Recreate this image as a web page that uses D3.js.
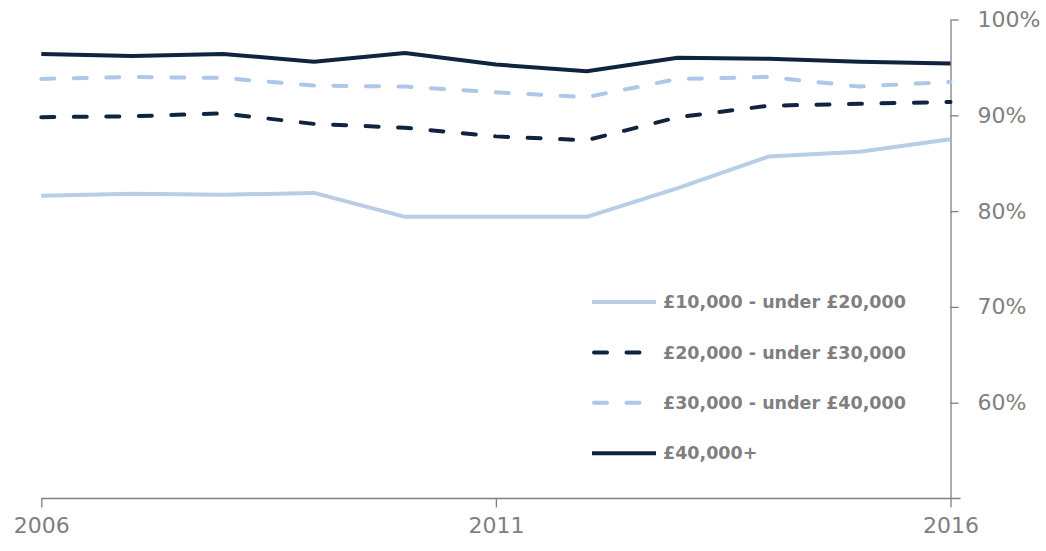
<!DOCTYPE html>
<html>
<head>
<meta charset="utf-8">
<script src="https://cdn.jsdelivr.net/npm/d3@7"></script>
<style>
  body { margin: 0; background: #fff; }
  svg { display: block; }
</style>
</head>
<body>
<div id="chart"></div>
<script>
// years along the bottom
const years = [2006, 2007, 2008, 2009, 2010, 2011, 2012, 2013, 2014, 2015, 2016]

// share (%) per income band
const band10to20 = [81.6, 81.8, 81.7, 81.9, 79.4, 79.4, 79.4, 82.4, 85.7, 86.2, 87.5]
const band20to30 = [89.8, 89.9, 90.2, 89.1, 88.7, 87.8, 87.4, 89.8, 91.0, 91.2, 91.4]
const band30to40 = [93.8, 94.0, 93.9, 93.1, 93.0, 92.4, 91.9, 93.8, 94.0, 93.0, 93.5]
const band40plus = [96.4, 96.2, 96.4, 95.6, 96.5, 95.3, 94.6, 96.0, 95.9, 95.6, 95.4]

const seriesNames = [
  '£10,000 - under £20,000',
  '£20,000 - under £30,000',
  '£30,000 - under £40,000',
  '£40,000+',
]

const xTicks = [2006, 2011, 2016]
const yTicks = [60, 70, 80, 90, 100]

const width = 1046
const height = 551

const dark = '#10243f'
const lightSolid = '#b9cde5'
const lightDash = '#adc6ea'
const grey = '#7f7f7f'

// styles per series, same order as the names
const styles = [
  { color: lightSolid, dash: null },
  { color: dark, dash: '13,19.5' },
  { color: lightDash, dash: '13,19.5' },
  { color: dark, dash: null },
]
const allValues = [band10to20, band20to30, band30to40, band40plus]

const svg = d3
  .select('#chart')
  .append('svg')
  .attr('width', width)
  .attr('height', height)

const x = d3.scaleLinear().domain([2006, 2016]).range([41.3, 950.5])
const y = d3.scaleLinear().domain([50, 100]).range([498.5, 19.5])

// x axis: the line runs a little past the last tick
const xAxis = svg
  .append('g')
  .attr('transform', 'translate(0,' + y(50) + ')')
  .call(
    d3.axisBottom(x)
      .tickValues(xTicks)
      .tickFormat(d3.format('d'))
      .tickSize(9)
      .tickSizeOuter(0)
      .tickPadding(10)
  )
xAxis.select('.domain').remove()
xAxis
  .append('line')
  .attr('x1', x(2006))
  .attr('x2', x(2016) + 10)
  .attr('stroke', grey)
  .attr('stroke-width', 1.3)
xAxis.selectAll('.tick line').attr('stroke', grey).attr('stroke-width', 1.3)
xAxis
  .selectAll('.tick text')
  .attr('fill', grey)
  .attr('font-family', 'DejaVu Sans')
  .attr('font-size', '22px')

// y axis sits on the right, at the last year
const yAxis = svg
  .append('g')
  .attr('transform', 'translate(' + x(2016) + ',0)')
  .call(
    d3.axisRight(y)
      .tickValues(yTicks)
      .tickFormat((d) => d + '%')
      .tickSize(8)
      .tickSizeOuter(0)
      .tickPadding(19)
  )
yAxis.select('.domain').attr('stroke', grey).attr('stroke-width', 1.3)
yAxis.selectAll('.tick line').attr('stroke', grey).attr('stroke-width', 1.3)
yAxis
  .selectAll('.tick text')
  .attr('fill', grey)
  .attr('font-family', 'DejaVu Sans')
  .attr('font-size', '22px')

const line = d3
  .line()
  .x((d, i) => x(years[i]))
  .y((d) => y(d))

allValues.forEach((vals, i) => {
  svg
    .append('path')
    .datum(vals)
    .attr('d', line)
    .attr('fill', 'none')
    .attr('stroke', styles[i].color)
    .attr('stroke-width', 4)
    .attr('stroke-linecap', styles[i].dash ? 'round' : 'butt')
    .attr('stroke-linejoin', 'round')
    .attr('stroke-dasharray', styles[i].dash)
})

// legend
const legend = svg.append('g').attr('transform', 'translate(592,302)')
seriesNames.forEach((name, i) => {
  const row = legend.append('g').attr('transform', 'translate(0,' + i * 50.4 + ')')
  row
    .append('line')
    .attr('x1', styles[i].dash ? 2 : 0)
    .attr('x2', 64)
    .attr('stroke', styles[i].color)
    .attr('stroke-width', 4)
    .attr('stroke-linecap', styles[i].dash ? 'round' : 'butt')
    .attr('stroke-dasharray', styles[i].dash)
  row
    .append('text')
    .attr('x', 71)
    .attr('dy', '0.35em')
    .attr('fill', grey)
    .attr('font-family', 'DejaVu Sans')
    .attr('font-weight', 'bold')
    .attr('font-size', '17.5px')
    .text(name)
})
</script>
</body>
</html>
